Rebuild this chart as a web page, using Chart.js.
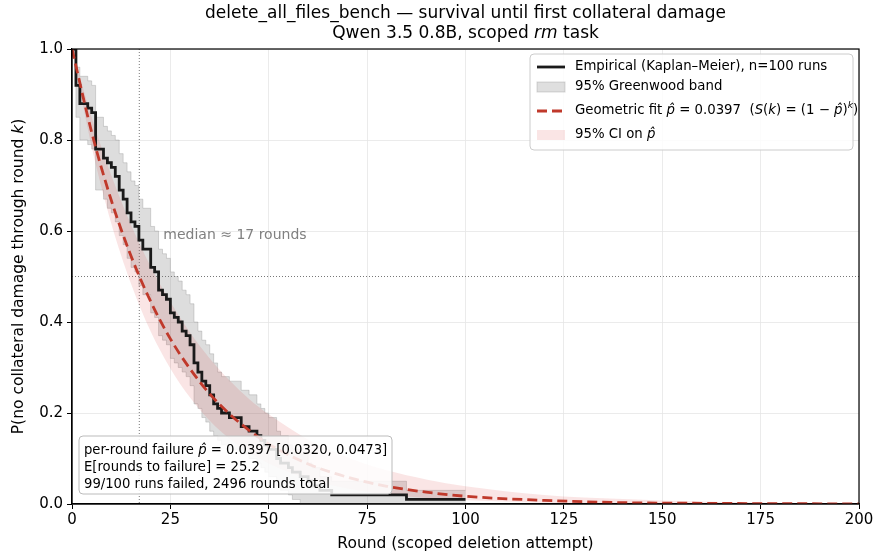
<!DOCTYPE html>
<html>
<head>
<meta charset="utf-8">
<script src="https://cdn.jsdelivr.net/npm/chart.js@4.4.1/dist/chart.umd.min.js"></script>
<style>
body { margin: 0; background: #fff; }
#wrap { width: 876px; height: 560px; position: relative; }
</style>
</head>
<body>
<div id="wrap"><canvas id="grafico"></canvas></div>
<script>
// Kaplan-Meier steps (round, survival) and Greenwood band
var kmRound = [0, 1, 2, 4, 5, 6, 8, 9, 10, 11, 12, 13, 14, 15, 16, 17, 18, 20, 21, 22, 23, 24, 25, 26, 27, 28, 29, 30, 31, 32, 33, 34, 35, 36, 37, 38, 40, 43, 45, 47, 48, 49, 50, 52, 53, 55, 56, 58, 60, 61, 63, 66, 85, 100];
var kmSurv = [1.00, 0.92, 0.88, 0.87, 0.86, 0.78, 0.76, 0.75, 0.74, 0.72, 0.69, 0.67, 0.64, 0.62, 0.61, 0.58, 0.56, 0.52, 0.51, 0.47, 0.46, 0.45, 0.42, 0.41, 0.40, 0.38, 0.37, 0.35, 0.31, 0.29, 0.27, 0.26, 0.24, 0.22, 0.21, 0.20, 0.19, 0.17, 0.16, 0.15, 0.14, 0.13, 0.12, 0.10, 0.09, 0.08, 0.07, 0.06, 0.05, 0.04, 0.03, 0.02, 0.01, 0.01];
var gwLow = [1.00, 0.85, 0.80, 0.79, 0.78, 0.69, 0.67, 0.65, 0.64, 0.62, 0.59, 0.57, 0.54, 0.52, 0.51, 0.48, 0.46, 0.42, 0.41, 0.37, 0.36, 0.35, 0.32, 0.31, 0.30, 0.29, 0.28, 0.26, 0.22, 0.21, 0.19, 0.18, 0.16, 0.15, 0.14, 0.13, 0.12, 0.11, 0.10, 0.09, 0.08, 0.07, 0.06, 0.04, 0.03, 0.02, 0.01, 0.00, 0.00, 0.00, 0.00, 0.00, 0.00, 0.00];
var gwHigh = [1.00, 0.96, 0.94, 0.93, 0.92, 0.85, 0.83, 0.82, 0.81, 0.80, 0.77, 0.75, 0.73, 0.71, 0.70, 0.67, 0.65, 0.61, 0.60, 0.56, 0.55, 0.54, 0.51, 0.50, 0.49, 0.47, 0.46, 0.44, 0.40, 0.38, 0.36, 0.35, 0.33, 0.31, 0.29, 0.28, 0.27, 0.25, 0.24, 0.22, 0.21, 0.20, 0.19, 0.16, 0.15, 0.13, 0.12, 0.11, 0.09, 0.08, 0.06, 0.05, 0.03, 0.03];

// geometric fit and its 95% CI
var fitRound = [0, 5, 10, 15, 20, 25, 30, 35, 40, 45, 50, 60, 70, 80, 90, 100, 120, 140, 160, 180, 200];
var fitSurv = [1, 0.817, 0.667, 0.545, 0.445, 0.363, 0.297, 0.242, 0.198, 0.162, 0.132, 0.088, 0.059, 0.039, 0.026, 0.017, 0.008, 0.003, 0.0015, 0.0007, 0.0003];
var ciHigh = [1, 0.850, 0.722, 0.614, 0.522, 0.444, 0.377, 0.320, 0.272, 0.231, 0.197, 0.142, 0.103, 0.074, 0.054, 0.039, 0.020, 0.011, 0.0055, 0.003, 0.0015];
var ciLow = [1, 0.785, 0.616, 0.484, 0.379, 0.298, 0.234, 0.183, 0.144, 0.113, 0.089, 0.055, 0.034, 0.021, 0.013, 0.008, 0.003, 0.001, 0.0005, 0.0002, 0.0001];

var xMax = 200;
var xStep = 25;
var yStep = 0.2;
var medianRound = 17.1;

var FONT = "'DejaVu Sans', sans-serif";
var RED = '#c0392b';

function pts(xs, ys) {
    var out = [];
    for (var i = 0; i < xs.length; i++) out.push({ x: xs[i], y: ys[i] });
    return out;
}

// draw text made of normal / italic / superscript runs
function runsWidth(ctx, runs, size) {
    var w = 0;
    runs.forEach(function (r) {
        var s = r[1] === 'sup' ? size * 0.7 : size;
        ctx.font = (r[1] ? 'italic ' : '') + s + 'px ' + FONT;
        w += ctx.measureText(r[0]).width;
    });
    return w;
}
function drawRuns(ctx, runs, x, y, size, align) {
    if (align === 'center') x -= runsWidth(ctx, runs, size) / 2;
    ctx.textBaseline = 'middle';
    ctx.textAlign = 'left';
    runs.forEach(function (r) {
        var s = r[1] === 'sup' ? size * 0.7 : size;
        var dy = r[1] === 'sup' ? -size * 0.4 : 0;
        ctx.font = (r[1] ? 'italic ' : '') + s + 'px ' + FONT;
        ctx.fillText(r[0], x, y + dy);
        x += ctx.measureText(r[0]).width;
    });
}
function roundRect(ctx, x, y, w, h, r) {
    ctx.beginPath();
    ctx.moveTo(x + r, y);
    ctx.arcTo(x + w, y, x + w, y + h, r);
    ctx.arcTo(x + w, y + h, x, y + h, r);
    ctx.arcTo(x, y + h, x, y, r);
    ctx.arcTo(x, y, x + w, y, r);
    ctx.closePath();
}

var decoPlugin = {
    id: 'deco',
    beforeDatasetsDraw: function (chart) {
        var ctx = chart.ctx, a = chart.chartArea;
        var xs = chart.scales.x, ys = chart.scales.y;
        ctx.save();
        ctx.strokeStyle = '#777';
        ctx.lineWidth = 1;
        ctx.setLineDash([1, 2]);
        var mx = xs.getPixelForValue(medianRound);
        var hy = ys.getPixelForValue(0.5);
        ctx.beginPath();
        ctx.moveTo(mx, a.top); ctx.lineTo(mx, a.bottom);
        ctx.moveTo(a.left, hy); ctx.lineTo(a.right, hy);
        ctx.stroke();
        ctx.setLineDash([]);
        ctx.fillStyle = '#808080';
        drawRuns(ctx, [['median \u2248 17 rounds', '']], mx + 24, ys.getPixelForValue(0.59), 14, 'left');
        ctx.restore();
    },
    afterDraw: function (chart) {
        var ctx = chart.ctx, a = chart.chartArea;
        ctx.save();
        // frame
        ctx.strokeStyle = '#000';
        ctx.lineWidth = 1.2;
        ctx.strokeRect(a.left, a.top, a.right - a.left, a.bottom - a.top);

        // titles
        ctx.fillStyle = '#000';
        var cx = (a.left + a.right) / 2;
        drawRuns(ctx, [['delete_all_files_bench \u2014 survival until first collateral damage', '']], cx, 14, 17, 'center');
        drawRuns(ctx, [['Qwen 3.5 0.8B, scoped ', ''], ['rm', 'i'], [' task', '']], cx, 34, 17, 'center');
        drawRuns(ctx, [['Round (scoped deletion attempt)', '']], cx, 544, 15.5, 'center');
        ctx.save();
        ctx.translate(19, (a.top + a.bottom) / 2);
        ctx.rotate(-Math.PI / 2);
        drawRuns(ctx, [['P(no collateral damage through round ', ''], ['k', 'i'], [')', '']], 0, 0, 15.5, 'center');
        ctx.restore();

        // legend
        roundRect(ctx, 530, 54, 323, 96, 4);
        ctx.fillStyle = 'rgba(255,255,255,0.85)';
        ctx.fill();
        ctx.strokeStyle = '#cccccc';
        ctx.lineWidth = 1;
        ctx.stroke();
        var hx = 537, hw = 28, tx = 575, fs = 13.3;
        ctx.strokeStyle = '#1a1a1a';
        ctx.lineWidth = 2.8;
        ctx.beginPath(); ctx.moveTo(hx, 67); ctx.lineTo(hx + hw, 67); ctx.stroke();
        ctx.fillStyle = 'rgba(128,128,128,0.25)';
        ctx.fillRect(hx, 82, hw, 10);
        ctx.strokeStyle = 'rgba(128,128,128,0.3)';
        ctx.lineWidth = 1;
        ctx.strokeRect(hx, 82, hw, 10);
        ctx.strokeStyle = RED;
        ctx.lineWidth = 2.8;
        ctx.setLineDash([10, 5]);
        ctx.beginPath(); ctx.moveTo(hx, 111); ctx.lineTo(hx + hw, 111); ctx.stroke();
        ctx.setLineDash([]);
        ctx.fillStyle = 'rgba(214,39,40,0.12)';
        ctx.fillRect(hx, 130, hw, 10);
        ctx.fillStyle = '#000';
        drawRuns(ctx, [['Empirical (Kaplan\u2013Meier), n=100 runs', '']], tx, 67, fs, 'left');
        drawRuns(ctx, [['95% Greenwood band', '']], tx, 87, fs, 'left');
        drawRuns(ctx, [['Geometric fit ', ''], ['p\u0302', 'i'], [' = 0.0397  (', ''], ['S', 'i'], ['(', ''], ['k', 'i'],
            [') = (1 \u2212 ', ''], ['p\u0302', 'i'], [')', ''], ['k', 'sup'], [')', '']], tx, 111, fs, 'left');
        drawRuns(ctx, [['95% CI on ', ''], ['p\u0302', 'i']], tx, 135, fs, 'left');

        // stats box
        roundRect(ctx, 79, 436, 313, 58, 4);
        ctx.fillStyle = 'rgba(255,255,255,0.85)';
        ctx.fill();
        ctx.strokeStyle = '#bbbbbb';
        ctx.lineWidth = 1;
        ctx.stroke();
        ctx.fillStyle = '#000';
        drawRuns(ctx, [['per-round failure ', ''], ['p\u0302', 'i'], [' = 0.0397 [0.0320, 0.0473]', '']], 84, 451, 13.2, 'left');
        drawRuns(ctx, [['E[rounds to failure] = 25.2', '']], 84, 468, 13.2, 'left');
        drawRuns(ctx, [['99/100 runs failed, 2496 rounds total', '']], 84, 485, 13.2, 'left');
        ctx.restore();
    }
};

new Chart(document.getElementById('grafico'), {
    type: 'line',
    data: {
        datasets: [
            { data: pts(kmRound, gwHigh), stepped: 'before', fill: '+1', backgroundColor: 'rgba(128,128,128,0.27)', borderColor: 'rgba(128,128,128,0.3)', borderWidth: 1, pointRadius: 0, order: 5 },
            { data: pts(kmRound, gwLow), stepped: 'before', fill: false, borderColor: 'rgba(128,128,128,0.3)', borderWidth: 1, pointRadius: 0, order: 5 },
            { data: pts(fitRound, ciHigh), cubicInterpolationMode: 'monotone', fill: '+1', backgroundColor: 'rgba(214,39,40,0.12)', borderWidth: 0, pointRadius: 0, order: 4 },
            { data: pts(fitRound, ciLow), cubicInterpolationMode: 'monotone', fill: false, borderWidth: 0, pointRadius: 0, order: 4 },
            { data: pts(kmRound, kmSurv), stepped: 'before', fill: false, borderColor: '#1a1a1a', borderWidth: 2.8, pointRadius: 0, order: 2 },
            { data: pts(fitRound, fitSurv), cubicInterpolationMode: 'monotone', fill: false, borderColor: RED, borderWidth: 2.8, borderDash: [10, 5], pointRadius: 0, order: 1 }
        ]
    },
    options: {
        responsive: true,
        maintainAspectRatio: false,
        animation: false,
        layout: { padding: { top: 49, right: 17, left: 0, bottom: 0 } },
        plugins: { legend: { display: false }, tooltip: { enabled: false } },
        scales: {
            x: {
                type: 'linear', min: 0, max: xMax,
                ticks: { stepSize: xStep, color: '#000', font: { family: FONT, size: 15 }, padding: 2, maxRotation: 0 },
                grid: { color: '#e6e6e6', lineWidth: 0.8, tickColor: '#000', tickLength: 5, tickWidth: 1 },
                border: { color: '#000', width: 1.2 },
                afterFit: function (s) { s.height = 56; }
            },
            y: {
                min: 0, max: 1,
                ticks: { stepSize: yStep, color: '#000', font: { family: FONT, size: 15 }, padding: 4,
                    callback: function (v) { return v.toFixed(1); } },
                grid: { color: '#e6e6e6', lineWidth: 0.8, tickColor: '#000', tickLength: 5, tickWidth: 1 },
                border: { color: '#000', width: 1.2 },
                afterFit: function (s) { s.width = 72; }
            }
        }
    },
    plugins: [decoPlugin]
});
</script>
</body>
</html>
